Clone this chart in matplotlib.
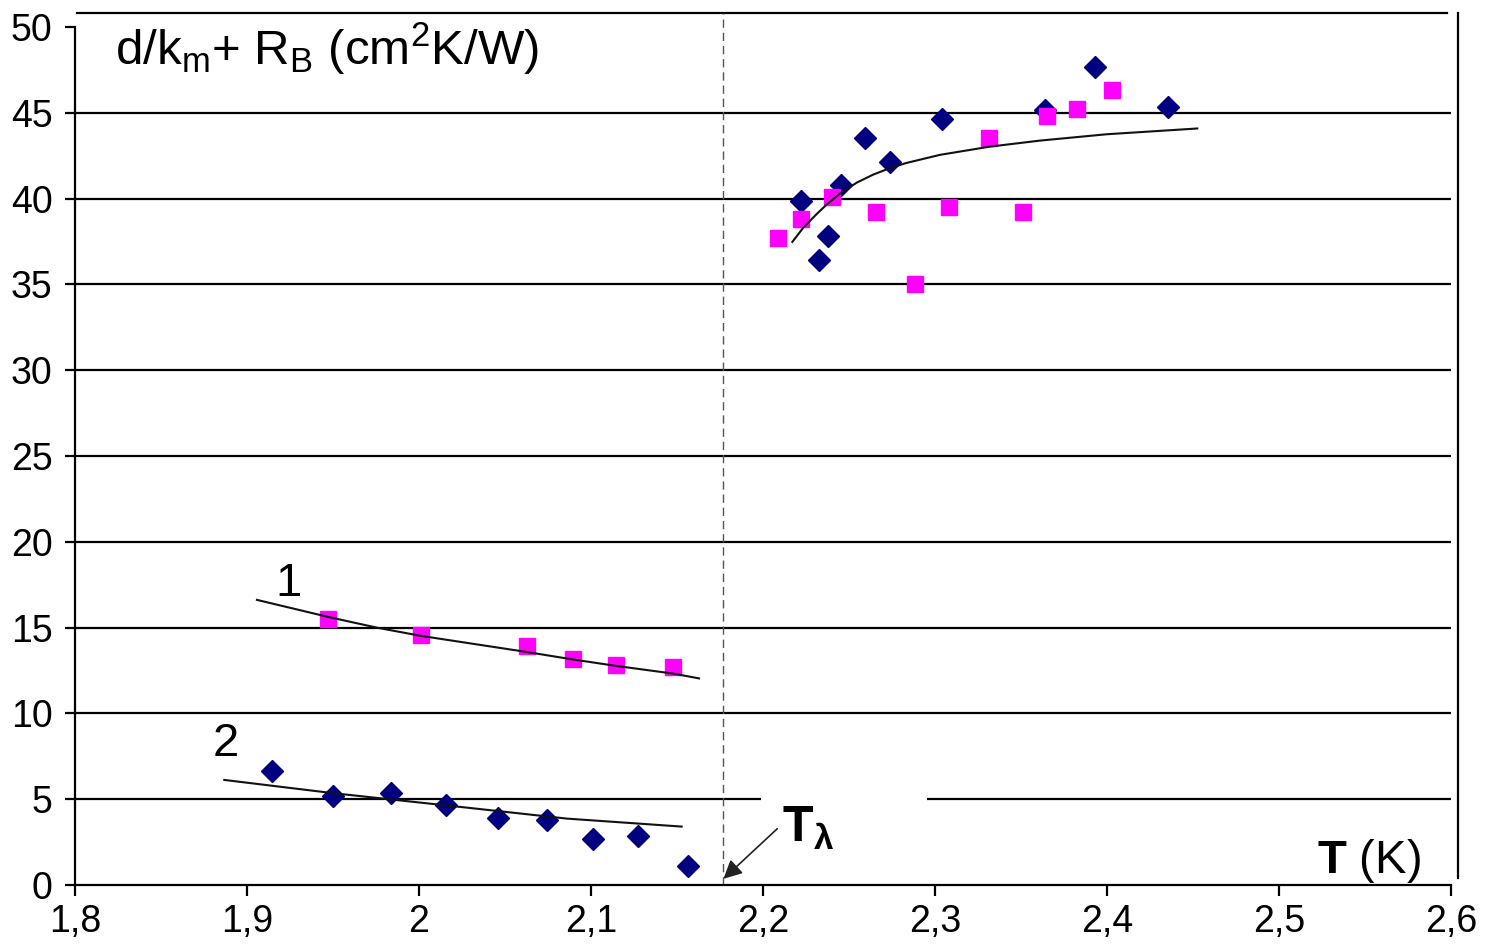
import matplotlib
matplotlib.use("Agg")
import matplotlib.pyplot as plt

# Thermal resistance d/k_m + R_B (cm^2 K/W) against temperature T (K)
# Sample 1 (squares) and sample 2 (diamonds), below and above T_lambda
t1_low = [1.9473, 2.0010, 2.0626, 2.0897, 2.1145, 2.1478]
r1_low = [15.48, 14.55, 13.93, 13.15, 12.84, 12.71]
t1_high = [2.2085, 2.2221, 2.2403, 2.2657, 2.2884, 2.3083, 2.3316, 2.3510,
           2.3649, 2.3827, 2.4031]
r1_high = [37.73, 38.83, 40.10, 39.22, 35.00, 39.51, 43.56, 39.22,
           44.83, 45.22, 46.33]

t2_low = [1.9144, 1.9498, 1.9835, 2.0155, 2.0458, 2.0744, 2.1010, 2.1275, 2.1562]
r2_low = [6.62, 5.19, 5.39, 4.67, 3.93, 3.77, 2.70, 2.86, 1.11]
t2_high = [2.2221, 2.2326, 2.2380, 2.2452, 2.2595, 2.2737, 2.3039, 2.3640,
           2.3928, 2.4356]
r2_high = [39.85, 36.40, 37.84, 40.78, 43.54, 42.14, 44.63, 45.16,
           47.65, 45.35]

# Trend curves
trend1_t = [1.9052, 1.9473, 1.9754, 2.0010, 2.0626, 2.0897, 2.1145, 2.1478, 2.1634]
trend1_r = [16.63, 15.62, 15.00, 14.52, 13.58, 13.14, 12.77, 12.32, 12.03]
trend2_t = [1.8862, 1.9502, 2.0277, 2.0859, 2.1533]
trend2_r = [6.13, 5.35, 4.51, 3.87, 3.40]
trend_hi_t = [2.2167, 2.2234, 2.2312, 2.2370, 2.2448, 2.2545, 2.2641, 2.2736,
              2.2835, 2.3029, 2.3320, 2.3610, 2.3998, 2.4531]
trend_hi_r = [37.43, 38.30, 39.10, 39.65, 40.30, 40.93, 41.40, 41.77,
              42.08, 42.55, 43.03, 43.38, 43.75, 44.09]

t_lambda = 2.177

x_ticks = [1.8, 1.9, 2.0, 2.1, 2.2, 2.3, 2.4, 2.5, 2.6]
x_tick_labels = ["1,8", "1,9", "2", "2,1", "2,2", "2,3", "2,4", "2,5", "2,6"]
y_ticks = [0, 5, 10, 15, 20, 25, 30, 35, 40, 45, 50]
grid_levels = [5, 10, 15, 20, 25, 30, 35, 40, 45]

plt.rcParams["font.family"] = ["Liberation Sans", "DejaVu Sans"]
plt.rcParams["mathtext.fontset"] = "custom"
plt.rcParams["mathtext.rm"] = "Liberation Sans"
plt.rcParams["mathtext.it"] = "Liberation Sans:italic"
plt.rcParams["mathtext.bf"] = "Liberation Sans:bold"

fig = plt.figure(figsize=(14.85, 9.51), dpi=100)
ax = fig.add_axes([0.0505, 0.0694, 0.9266, 0.9022])
ax.set_xlim(1.8, 2.6)
ax.set_ylim(0, 50)

# horizontal grid, with a gap left for the T_lambda label on the 5 line
for lvl in grid_levels:
    if lvl == 5:
        ax.hlines(lvl, 1.8, 2.1986, color="black", lw=1.6, zorder=1)
        ax.hlines(lvl, 2.2953, 2.6, color="black", lw=1.6, zorder=1)
    else:
        ax.hlines(lvl, 1.8, 2.6, color="black", lw=1.6, zorder=1)

# frame lines at the top and right
ax.plot([1.8012, 2.5977], [50.8, 50.8], color="black", lw=1.6,
        clip_on=False, zorder=1)
ax.plot([2.6041, 2.6041], [0.41, 50.8], color="black", lw=1.6,
        clip_on=False, zorder=1)

# T_lambda marker line
ax.plot([t_lambda, t_lambda], [0, 50.8], color="#555555", lw=1.0,
        dashes=(6, 3.5), clip_on=False, zorder=2)

# data points
ax.plot(t2_low, r2_low, "D", color="#000080", ms=11, mec="#000080",
        ls="none", zorder=3)
ax.plot(t2_high, r2_high, "D", color="#000080", ms=11, mec="#000080",
        ls="none", zorder=3)
ax.plot(t1_low, r1_low, "s", color="#FF00FF", ms=12, mec="#FF00FF",
        ls="none", zorder=4)
ax.plot(t1_high, r1_high, "s", color="#FF00FF", ms=12, mec="#FF00FF",
        ls="none", zorder=4)

# trend curves
for tt, rr in [(trend1_t, trend1_r), (trend2_t, trend2_r),
               (trend_hi_t, trend_hi_r)]:
    ax.plot(tt, rr, color="#111111", lw=1.5, zorder=5,
            solid_capstyle="butt", solid_joinstyle="round")

# spines and ticks
for side in ["top", "right"]:
    ax.spines[side].set_visible(False)
for side in ["left", "bottom"]:
    ax.spines[side].set_linewidth(1.6)
ax.set_xticks(x_ticks)
ax.set_xticklabels(x_tick_labels)
ax.set_yticks(y_ticks)
ax.set_yticklabels([str(v) for v in y_ticks])
ax.tick_params(axis="x", direction="out", length=8, width=1.6, pad=6,
               labelsize=27)
ax.tick_params(axis="y", direction="out", length=7, width=1.6, pad=9,
               labelsize=27)

# labels
ax.text(1.8233, 47.79,
        r"d/k$_{\mathregular{m}}$+ R$_{\mathregular{B}}$ (cm$^{\mathregular{2}}$K/W)",
        fontsize=35.5, ha="left", va="baseline", zorder=6)
ax.text(1.9244, 16.86, "1", fontsize=34, ha="center", va="baseline", zorder=6)
ax.text(1.8878, 7.5, "2", fontsize=34, ha="center", va="baseline", zorder=6)
ax.text(2.5221, 0.70, r"$\mathbf{T}$ (K)", fontsize=34, ha="left",
        va="baseline", zorder=6)
ax.text(2.2109, 2.52, r"$\mathbf{T_\lambda}$", fontsize=36, ha="left",
        va="baseline", zorder=6)
ax.annotate("", xy=(t_lambda, 0.36), xytext=(2.2083, 3.28),
            arrowprops=dict(arrowstyle="-|>", color="#222222", lw=1.2,
                            mutation_scale=28, shrinkA=0, shrinkB=0),
            zorder=6)

fig.savefig("out.png", dpi=100)
